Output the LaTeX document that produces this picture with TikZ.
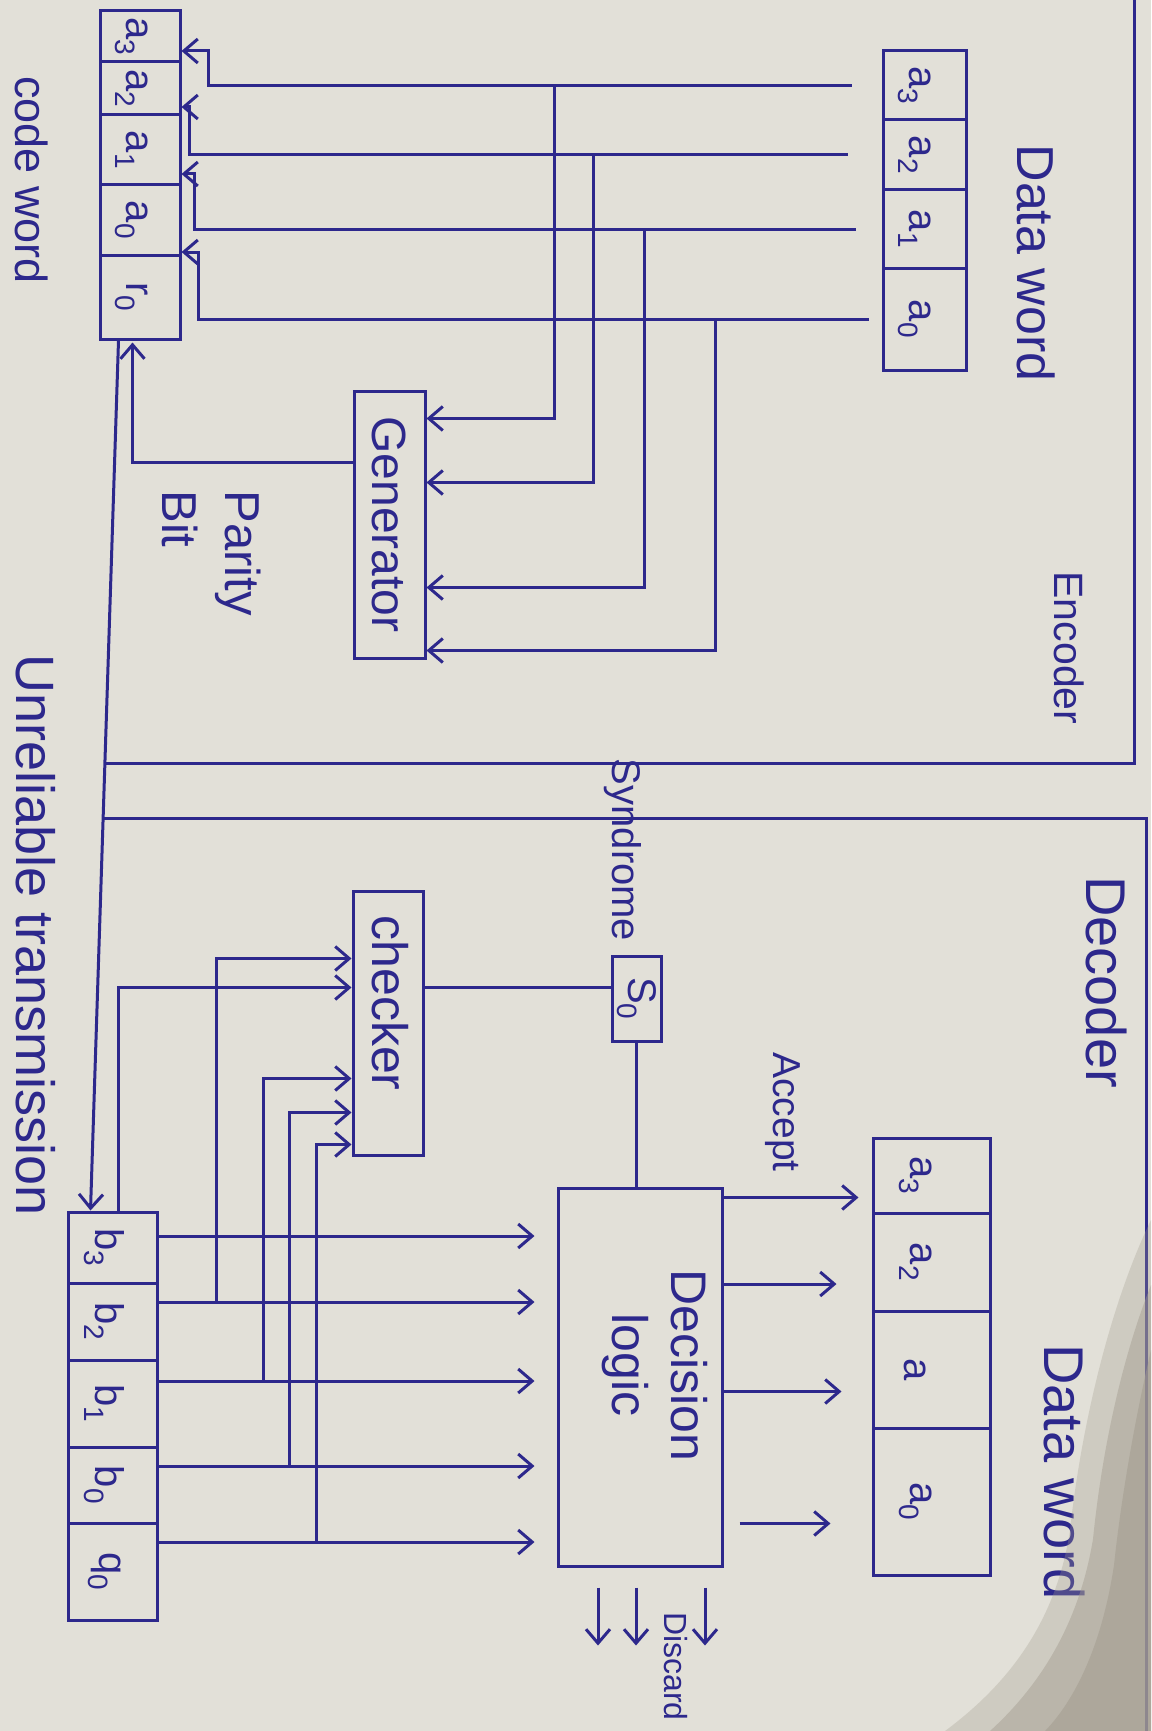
\documentclass[tikz,border=0pt]{standalone}
\usepackage{fontspec}
\setmainfont{Liberation Sans}
\usetikzlibrary{arrows.meta, calc}
\definecolor{cInk}{HTML}{2D288C}
\definecolor{cPaper}{HTML}{E2E0D8}
\definecolor{cShadow}{HTML}{A39C8F}

\begin{document}
\begin{tikzpicture}[
    x=1pt, y=-1pt,
    wire/.style={draw=cInk, line width=3pt},
    sig/.style={wire, -{Straight Barb[length=14pt, width=24pt]}},
    cell/.style={draw=cInk, line width=3pt, inner sep=0pt},
    blk/.style={draw=cInk, line width=3pt, inner sep=0pt},
    lbl/.style={text=cInk, rotate=-90, inner sep=0pt,
                font=\fontsize{#1}{#1}\selectfont},
    lbl/.default=46,
]

\useasboundingbox (0,0) rectangle (1151,1731);
\fill[cPaper] (0,0) rectangle (1151,1731);

% ===================== Encoder =====================
\draw[wire] (1134,-5) -- (1134,763) -- (106,763);
\node[lbl=41] (l-enc) at (1069,648) {Encoder};

% data word a3..a0
\foreach \n/\y/\h/\t in {3/85.5/69/{a\textsubscript{3}}, 2/155/70/{a\textsubscript{2}},
                         1/229/78/{a\textsubscript{1}}, 0/319/102/{a\textsubscript{0}}} {
    \node[cell, minimum width=83, minimum height=\h] (dw\n) at (924.5,\y) {};
    \node[lbl=40] (l-dw\n) at ($(dw\n)+(-10,0)$) {\t};
}
\node[lbl=52] (l-dw) at (1036,263) {Data word};

% code word a3 a2 a1 a0 r0
\foreach \n/\y/\h/\t in {3/36.5/51/{a\textsubscript{3}}, 2/88.5/53/{a\textsubscript{2}},
                         1/150/70/{a\textsubscript{1}}, 0/220/70/{a\textsubscript{0}},
                         r/297/84/{r\textsubscript{0}}} {
    \node[cell, minimum width=80, minimum height=\h] (cw\n) at (140,\y) {};
    \node[lbl=40] (l-cw\n) at ($(cw\n)+(-8,0)$) {\t};
}
\node[lbl=45] (l-cw) at (32,180) {code word};

\node[blk, minimum width=71, minimum height=267] (gen) at (389.5,524.5) {};
\node[lbl=48] (l-gen) at (gen) {Generator};

% data bits straight down into the code word
\foreach \n/\g/\j/\dy in {3/30/27/14.5, 2/34/8/18.5, 1/26/13/24, 0/13/17/32} {
    \draw[sig] ($(dw\n.west)+(-\g,0)$) -| ($(cw\n.east)+(\j,\dy)$)
               -- ($(cw\n.east)+(0,\dy)$);
}
% and the same bits tapped off for the generator
\foreach \n/\dx/\dy in {3/-327/29, 2/-288/93, 1/-237/198, 0/-166/261} {
    \draw[sig] ($(dw\n.west)+(\dx,0)$) |- ($(gen.north east)+(0,\dy)$);
}

% parity bit back to r0
\draw[sig, shorten >=2] ($(gen.north west)+(0,73)$) -| ($(cwr.south west)+(34,0)$);
\node[lbl, align=left, font=\fontsize{49}{63}\selectfont] (l-par) at (212,553)
      {Parity\\Bit};

% ===================== Decoder =====================
\draw[wire] (104,818) -- (1146,818) -- (1146,1740);
\node[lbl=56] (l-dec) at (1107,982) {Decoder};

% received code word b3 b2 b1 b0 q0
\foreach \n/\y/\h/\t/\dy in {3/1247.5/71/{b\textsubscript{3}}/-11.5,
                             2/1321.5/77/{b\textsubscript{2}}/-19.5,
                             1/1403.5/87/{b\textsubscript{1}}/-22.5,
                             0/1485/76/{b\textsubscript{0}}/-19,
                             q/1571.5/97/{q\textsubscript{0}}/-29.5} {
    \node[cell, minimum width=89, minimum height=\h] (rb\n) at (112.5,\y) {};
    \node[lbl=40] (l-rb\n) at ($(rb\n)+(-8,0)$) {\t};
    \coordinate (o\n) at ($(rb\n.east)+(0,\dy)$);
}

% ===================== Transmission =====================
\draw[sig] ($(cwr.south west)+(20,0)$) -- ($(rb3.north west)+(24,0)$);
\node[lbl=54] (l-unr) at (36,935) {Unreliable transmission};

\node[blk, minimum width=70, minimum height=264] (chk) at (388,1023) {};
\node[lbl=50] (l-chk) at ($(chk)+(2,-20)$) {checker};

\node[blk, minimum width=49, minimum height=85] (s0) at (636.5,998.5) {};
\node[lbl=40] (l-s0) at (s0) {S\textsubscript{0}};
\node[lbl=40] (l-syn) at (623,850) {Syndrome};

\node[blk, minimum width=164, minimum height=378] (dl) at (640,1377) {};
\node[lbl, align=center, font=\fontsize{50}{59}\selectfont] (l-dl) at (655,1365)
      {Decision\\logic};

% decoded data word
\foreach \n/\y/\h/\t in {3/1175.5/75/{a\textsubscript{3}}, 2/1262/98/{a\textsubscript{2}},
                         1/1369.5/117/{a}, 0/1501.5/147/{a\textsubscript{0}}} {
    \node[cell, minimum width=117, minimum height=\h] (dd\n) at (931.5,\y) {};
    \node[lbl=40] (l-dd\n) at ($(dd\n)+(-16,0)$) {\t};
}
\node[lbl=56] (l-dd) at (1065,1472) {Data word};

% code word bits into the decision logic
\foreach \n in {3,2,1,0,q} {\draw[sig, shorten >=22] (o\n) -- (o\n -| dl.west);}

% bits tapped off for the checker
\draw[sig] ($(rb3.north)+(6,0)$) |- ($(chk.north west)+(0,98)$);
\foreach \n/\dx/\dy in {2/58/69, 1/105/189, 0/131/223, q/158/255} {
    \draw[sig] ($(o\n)+(\dx,0)$) |- ($(chk.north west)+(0,\dy)$);
}

% syndrome
\coordinate (ks) at ($(chk.north east)+(0,98)$);
\draw[wire] (ks) -- (ks -| s0.west);
\draw[wire] (s0.south) -- (s0.south |- dl.north);

% accept
\foreach \n/\s/\e in {3/0/13, 2/0/35, 1/0/30, 0/16/41} {
    \coordinate (d\n) at ($(dd\n.west)+(0,22)$);
    \draw[sig, shorten <=\s, shorten >=\e] (d\n -| dl.east) -- (d\n);
}
\node[lbl=39] (l-acc) at (783,1112) {Accept};

% discard
\foreach \dx in {-42,-4,65} {\draw[sig] ($(dl.south)+(\dx,20)$) -- ++(0,58);}
\node[lbl=32, anchor=west] (l-disc) at (676,1612) {Discard};

% ===================== Shadow on the sheet =====================
\fill[cShadow, opacity=0.3] (1151,1220) .. controls (1112,1300) and (1082,1420) .. (1070,1530)
     .. controls (1055,1630) and (1000,1690) .. (945,1731) -- (1151,1731) -- cycle;
\fill[cShadow, opacity=0.45] (1151,1285) .. controls (1125,1350) and (1103,1440) .. (1093,1539)
     .. controls (1078,1630) and (1035,1690) .. (990,1731) -- (1151,1731) -- cycle;
\fill[cShadow, opacity=0.55] (1151,1350) .. controls (1137,1410) and (1122,1490) .. (1114,1565)
     .. controls (1102,1645) and (1075,1700) .. (1045,1731) -- (1151,1731) -- cycle;

\end{tikzpicture}
\end{document}
